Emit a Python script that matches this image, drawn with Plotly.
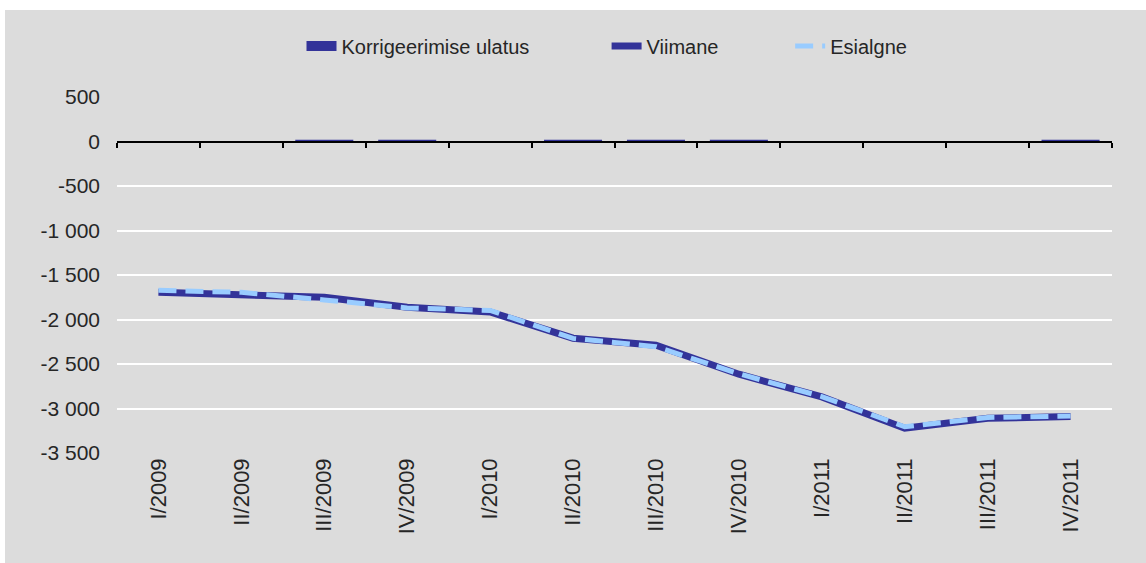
import plotly.graph_objects as go

categories = ["I/2009", "II/2009", "III/2009", "IV/2009", "I/2010", "II/2010",
              "III/2010", "IV/2010", "I/2011", "II/2011", "III/2011", "IV/2011"]
korrigeerimine = [0, 0, 20, 20, 0, 20, 20, 20, 0, 0, 0, 20]
viimane = [-1695, -1715, -1750, -1862, -1915, -2210, -2290, -2615, -2870, -3222, -3110, -3090]
esialgne = [-1672, -1695, -1780, -1870, -1898, -2212, -2305, -2610, -2866, -3205, -3100, -3085]
y_tickvals = [500, 0, -500, -1000, -1500, -2000, -2500, -3000, -3500]
y_ticktext = ["500", "0", "-500", "-1 000", "-1 500", "-2 000", "-2 500", "-3 000", "-3 500"]
legend_names = ["Korrigeerimise ulatus", "Viimane", "Esialgne"]

FONT = "Liberation Sans"
TXT = "#262626"
W, H = 1146, 563
ML, MT = 117, 97
MR = W - 1112
MB = H - 453
pw, ph = W - ML - MR, H - MT - MB

DARK = "#333399"
LIGHT = "#99CCFF"
NB = "\u00a0"

fig = go.Figure()
fig.add_trace(go.Bar(x=categories, y=korrigeerimine, name=legend_names[0],
                     marker=dict(color=DARK, line=dict(width=0)), width=0.7,
                     showlegend=False))
# legend stand-in for the bar series (wide rectangular swatch)
fig.add_trace(go.Scatter(x=[None], y=[None], name=legend_names[0] + NB * 13, mode="lines",
                         line=dict(color=DARK, width=11)))
fig.add_trace(go.Scatter(x=categories, y=viimane, name=legend_names[1] + NB * 12, mode="lines",
                         line=dict(color=DARK, width=7)))
fig.add_trace(go.Scatter(x=categories, y=esialgne, name=legend_names[2], mode="lines",
                         line=dict(color=LIGHT, width=5, dash="18px,9px")))
# invisible trace to carry the zero-line category axis
fig.add_trace(go.Scatter(x=categories, y=[0] * len(categories), xaxis="x2", mode="lines",
                         line=dict(width=0), showlegend=False, hoverinfo="skip"))

zero_pos = (0 - y_tickvals[-1]) / (y_tickvals[0] - y_tickvals[-1])

fig.update_layout(
    width=W, height=H,
    margin=dict(l=ML, r=MR, t=MT, b=MB),
    paper_bgcolor="white",
    plot_bgcolor="#DCDCDC",
    font=dict(family=FONT, size=20, color=TXT),
    showlegend=True,
    legend=dict(orientation="h", x=(607 - ML) / pw, xanchor="center",
                y=1 + (MT - 46) / ph, yanchor="middle",
                font=dict(size=20, family=FONT, color=TXT), bgcolor="rgba(0,0,0,0)",
                traceorder="normal"),
    xaxis=dict(type="category", range=[-0.5, 11.5], showgrid=False, showline=False,
               ticks="", tickangle=-90, tickfont=dict(size=22, family=FONT, color=TXT),
               zeroline=False),
    xaxis2=dict(type="category", overlaying="x", matches="x", anchor="free",
                position=zero_pos, side="bottom", showline=True, linecolor="black",
                linewidth=2, ticks="outside", tickson="boundaries", ticklen=5,
                tickwidth=2, tickcolor="black", showticklabels=False, showgrid=False,
                zeroline=False),
    yaxis=dict(range=[y_tickvals[-1], y_tickvals[0]], tickvals=y_tickvals,
               ticktext=y_ticktext, showgrid=True, gridcolor="white", gridwidth=2,
               zeroline=False, showline=False, ticks="", ticklabelstandoff=16,
               tickfont=dict(size=21, family=FONT, color=TXT)),
    shapes=[dict(type="rect", xref="paper", yref="paper",
                 x0=(5 - ML) / pw, x1=(W - ML) / pw + 0.02,
                 y0=-(MB + 5) / ph, y1=1 + (MT - 10) / ph,
                 fillcolor="#DCDCDC", line=dict(width=0), layer="below")],
)

fig.write_html("out.html", config={"displayModeBar": False},
               post_script="document.body.style.margin='0';document.body.style.overflow='hidden';")
